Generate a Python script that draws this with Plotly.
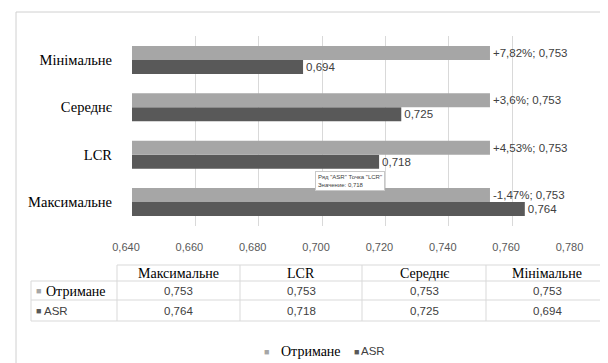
import plotly.graph_objects as go

# ---------------- data ----------------
categories = ["Максимальне", "LCR", "Середнє", "Мінімальне"]
series_names = ["Отримане", "ASR"]
otrymane = [0.753, 0.753, 0.753, 0.753]
asr = [0.764, 0.718, 0.725, 0.694]
otrymane_labels = ["-1,47%; 0,753", "+4,53%; 0,753", "+3,6%; 0,753", "+7,82%; 0,753"]
asr_labels = ["0,764", "0,718", "0,725", "0,694"]
x_ticks = [0.640, 0.660, 0.680, 0.700, 0.720, 0.740, 0.760, 0.780]
x_tick_labels = ["0,640", "0,660", "0,680", "0,700", "0,720", "0,740", "0,760", "0,780"]
tooltip_lines = ['Ряд "ASR" Точка "LCR"', "Значение: 0,718"]

# ---------------- style ----------------
W, H = 608, 363
C_LIGHT = "#a6a6a6"
C_DARK = "#595959"
GRID = "#d9d9d9"
SERIF = "Liberation Serif, Times New Roman, serif"
SANS = "Liberation Sans, Arial, sans-serif"


def px(x):
    return x / W


def py(y):
    return 1 - y / H


def fmt(v):
    return f"{v:.3f}".replace(".", ",")


fig = go.Figure()

fig.add_trace(go.Bar(
    y=categories, x=asr, orientation="h", name=series_names[1],
    marker=dict(color=C_DARK, line=dict(width=0)),
    text=asr_labels, textposition="outside", cliponaxis=False,
    textfont=dict(family=SANS, size=11.5, color="#404040"),
    showlegend=False,
))
fig.add_trace(go.Bar(
    y=categories, x=otrymane, orientation="h",
    name=series_names[0],
    marker=dict(color=C_LIGHT, line=dict(width=0)),
    text=otrymane_labels, textposition="outside", cliponaxis=False,
    textfont=dict(family=SANS, size=11.5, color="#404040"),
    showlegend=False,
))

fig.update_layout(
    width=W, height=H,
    margin=dict(l=0, r=0, t=0, b=0),
    paper_bgcolor="white", plot_bgcolor="white",
    barmode="group", bargap=0.41, bargroupgap=0,
    xaxis=dict(
        domain=[px(124), px(567.5)], range=[0.64, 0.78], automargin=False,
        tickvals=x_ticks, ticktext=x_tick_labels,
        showgrid=True, gridcolor=GRID, gridwidth=1,
        zeroline=False, showline=False, ticks="",
        tickfont=dict(family=SANS, size=11, color="#595959"),
        ticklabelstandoff=13, ticklabelshift=-6,
    ),
    yaxis=dict(
        domain=[py(217.7), py(28.3)], type="category", automargin=False,
        categoryorder="array", categoryarray=categories,
        range=[-0.5, 3.5], showgrid=False, zeroline=False, showline=False, ticks="",
        tickfont=dict(family=SERIF, size=14.5, color="#000000"),
        ticklabelstandoff=19,
    ),
    hovermode=False,
)

shapes = []
# outer frame (left + top)
shapes.append(dict(type="line", xref="paper", yref="paper", x0=px(8), x1=px(8), y0=py(4), y1=0,
                   line=dict(color="#d0d0d0", width=1)))
shapes.append(dict(type="line", xref="paper", yref="paper", x0=px(8), x1=1, y0=py(4), y1=py(4),
                   line=dict(color="#d0d0d0", width=1)))

# data table
col_edges = [23, 109, 232, 354, 478, 600]
row_edges = [257, 273, 292, 313]
for i, y in enumerate(row_edges):
    x0 = col_edges[1] if i == 0 else col_edges[0]
    shapes.append(dict(type="line", xref="paper", yref="paper", x0=px(x0), x1=px(col_edges[-1]),
                       y0=py(y), y1=py(y), line=dict(color=GRID, width=1)))
for j, x in enumerate(col_edges):
    y0 = row_edges[1] if j == 0 else row_edges[0]
    shapes.append(dict(type="line", xref="paper", yref="paper", x0=px(x), x1=px(x),
                       y0=py(y0), y1=py(row_edges[-1]), line=dict(color=GRID, width=1)))

annotations = []


def txt(x, y, text, font, anchor="center"):
    annotations.append(dict(xref="paper", yref="paper", x=px(x), y=py(y), text=text,
                            showarrow=False, xanchor=anchor, yanchor="middle", font=font))


F_SERIF = dict(family=SERIF, size=14, color="#000000")
F_SANS = dict(family=SANS, size=11.5, color="#404040")

for j, cat in enumerate(categories):
    xc = (col_edges[j + 1] + col_edges[j + 2]) / 2
    txt(xc, 265, cat, F_SERIF)
    txt(xc, 283, fmt(otrymane[j]), F_SANS)
    txt(xc, 303, fmt(asr[j]), F_SANS)

# row headers of the data table (with keys)
txt(26, 283, "■", dict(family=SANS, size=9, color=C_LIGHT), "left")
txt(36, 283, series_names[0], F_SERIF, "left")
txt(26, 303, "■", dict(family=SANS, size=9, color=C_DARK), "left")
txt(34, 303, series_names[1], F_SANS, "left")

# chart legend
txt(254, 343.5, "■", dict(family=SANS, size=9, color=C_LIGHT), "left")
txt(271, 343, series_names[0], F_SERIF, "left")
txt(344, 343.5, "■", dict(family=SANS, size=9, color=C_DARK), "left")
txt(351, 343, series_names[1], F_SANS, "left")

# tooltip artifact
annotations.append(dict(xref="paper", yref="paper", x=px(307), y=py(173),
                        text="<br>".join(tooltip_lines), align="left",
                        showarrow=False, xanchor="left", yanchor="middle",
                        bgcolor="white", bordercolor="#c8c8c8", borderwidth=1, borderpad=2,
                        font=dict(family=SANS, size=6, color="#404040")))

fig.update_layout(shapes=shapes, annotations=annotations)

fig.write_html("out.html")
